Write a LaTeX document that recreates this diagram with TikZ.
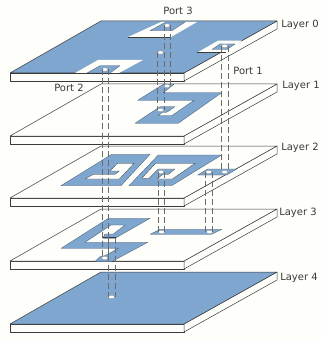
\documentclass[tikz,border=0pt]{standalone}
\usepackage{fontspec}
\setmainfont{DejaVu Sans}
\usetikzlibrary{shapes.geometric,calc}
\definecolor{cu}{HTML}{7FA6CE}
\definecolor{paper}{HTML}{FEFEFA}
\definecolor{ink}{HTML}{3A3A3A}
\tikzset{
  zm/.style 2 args={shift={(#1,#2)},x=.33333pt,y=-.33333pt},
  slab/.style={draw=ink,line width=.5pt,fill=paper,line join=round},
  metal/.style={fill=cu,draw=cu!55!black,line width=.3pt,line join=round},
  gap/.style={fill=paper,draw=ink,line width=.3pt,line join=round},
  via/.style={ellipse,fill=white,draw=ink!60,line width=.25pt,inner sep=0pt,minimum width=6pt,minimum height=3.4pt},
  tie/.style={draw=ink!75,line width=.35pt,dash pattern=on 6pt off 3pt},
  lbl/.style={font=\fontsize{10}{12}\selectfont,text=ink,inner sep=0pt}
}
\newcommand{\slabat}[2]{%
  \begin{scope}[yshift=-#1pt]
    \draw[slab] (10,52) rectangle (184,60);
    \draw[slab] (184,52) -- (277,0) -- (277,8) -- (184,60) -- cycle;
    \draw[slab,#2] (10,52) -- (101,0) -- (277,0) -- (184,52) -- cycle;
  \end{scope}}
\newcommand{\tiepair}[2]{%
  \draw[tie] ([xshift=-3.3pt]#1.center) -- ([xshift=-3.3pt]#1.center |- #2.center);
  \draw[tie] ([xshift=3.3pt]#1.center) -- ([xshift=3.3pt]#1.center |- #2.center);}
\begin{document}
\begin{tikzpicture}[x=1pt,y=-1pt]
\useasboundingbox[fill=paper] (0,0) rectangle (322,339);
% Layer 4
\slabat{272}{fill=cu}
% Layer 3
\slabat{209}{}
\begin{scope}[zm={55}{210}]
  \draw[metal] (18,115) -- (190,115) -- (150,137) -- (135,140) -- (120,155) -- (170,155) -- (278,97) -- (90,97) -- (168,45) -- (210,45) -- (175,72) -- (150,72) -- (143,85) -- (180,85) -- (285,25) -- (160,25) -- cycle;
  \draw[metal] (285,73) -- (470,73) -- (500,58) -- (315,58) -- cycle;
\end{scope}
% Layer 2
\slabat{146}{}
\begin{scope}[zm={60}{150}]
  \draw[metal] (3,107) -- (183,107) -- (270,13) -- (155,13) -- cycle;
  \draw[gap] (75,87) -- (178,87) -- (222,40) -- (172,40) -- (150,63) -- (178,63) -- (165,73) -- (100,73) -- cycle;
\end{scope}
\begin{scope}[zm={125}{150}]
  \draw[metal] (12,107) -- (140,107) -- (290,15) -- (100,15) -- cycle;
  \draw[gap] (92,40) -- (210,40) -- (142,87) -- (97,87) -- (113,73) -- (130,73) -- (150,57) -- (100,57) -- (72,85) -- (50,85) -- cycle;
  \draw[metal] (218,75) -- (305,75) -- (335,57) -- (248,57) -- cycle;
\end{scope}
% Layer 1
\slabat{84}{}
\draw[metal] (163.3,84.3) -- (174,84.3) -- (163.3,92.7) -- (221.7,92.7) -- (178.3,123.3) -- (135,123.3) -- (160,106.7) -- (175,106.7) -- (166.7,112.3) -- (162.3,112.3) -- (158.3,115.7) -- (171.7,115.7) -- (194,100.3) -- (137.7,100.3) -- cycle;
% Layer 0
\slabat{21}{fill=cu}
\draw[ink,line width=.8pt] (10,73) -- (184,73);
\draw[gap,draw=none] (128,37) -- (171,37) -- (197,22) -- (161,22) -- cycle;
\draw[metal] (150,30.7) -- (172,30.7) -- (185,22) -- (166,22) -- cycle;
\draw[gap,draw=none] (197,52.7) -- (226,52.7) -- (242,40.7) -- (218,40.7) -- cycle;
\draw[metal] (212,49.5) -- (227,49.5) -- (235,44) -- (220,44) -- cycle;
\draw[gap,draw=none] (75,73) -- (119,73) -- (143,60) -- (98,60) -- cycle;
\draw[metal] (87,73) -- (110,73) -- (120,65.7) -- (100,65.7) -- cycle;
\draw[ink,line width=.5pt] (128,37) -- (171,37) (197,52.7) -- (226,52.7);
\draw[ink,line width=.8pt] (75,73) -- (119,73);
% Vias
\node[via] (a0) at (105,69.5) {};
\node[via] (b0) at (167,25.5) {};
\node[via] (c0) at (160.5,52.5) {};
\node[via] (d0) at (224.7,46) {};
\node[via] (b1) at (167,86) {};
\node[via] (c1) at (160.5,110) {};
\node[via] (c2) at (161,172) {};
\node[via] (e2) at (208.7,172) {};
\node[via] (d2) at (224.7,172) {};
\node[via] (c3) at (161.5,232) {};
\node[via] (e3) at (209.5,232) {};
\node[via] (a3) at (104.7,258) {};
\coordinate (f3) at (111.5,238);
\node[via] (f4) at (111.5,297) {};
\draw[ink,line width=.7pt] (103,237.5) -- (116,237.5);
% Vertical ties between vias
\tiepair{a0}{a3}
\tiepair{b0}{b1}
\tiepair{c0}{c1}
\tiepair{d0}{d2}
\tiepair{c2}{c3}
\tiepair{e2}{e3}
\tiepair{f3}{f4}
% Labels
\node[lbl] (p3) at (178,11) {Port 3};
\node[lbl] (p1) at (248,71) {Port 1};
\node[lbl] (p2) at (69,88) {Port 2};
\node[lbl] (l0) at (300,25) {Layer 0};
\node[lbl] (l1) at (301,86) {Layer 1};
\node[lbl] (l2) at (300,148) {Layer 2};
\node[lbl] (l3) at (298,213) {Layer 3};
\node[lbl] (l4) at (299,278) {Layer 4};
\end{tikzpicture}
\end{document}
